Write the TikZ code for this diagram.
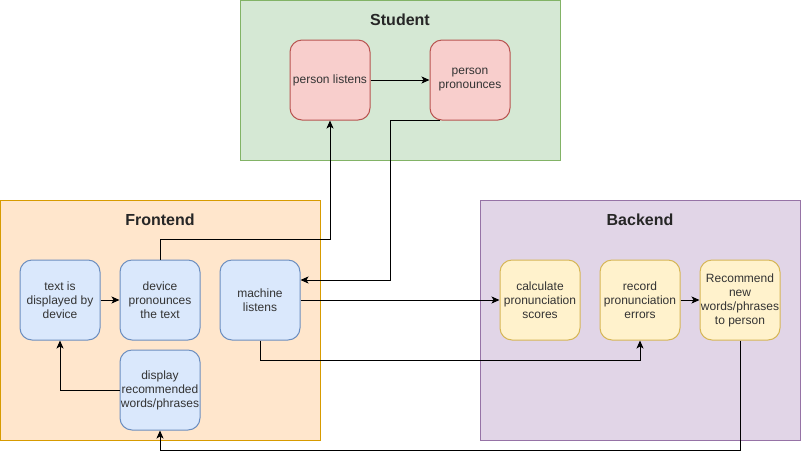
\documentclass[tikz,border=0pt]{standalone}
\usepackage{fontspec}
\setmainfont{Liberation Sans}
\usetikzlibrary{arrows.meta}

\definecolor{greenfill}{HTML}{D5E8D4}\definecolor{greenline}{HTML}{82B366}
\definecolor{orangefill}{HTML}{FFE6CC}\definecolor{orangeline}{HTML}{D79B00}
\definecolor{purplefill}{HTML}{E1D5E7}\definecolor{purpleline}{HTML}{9673A6}
\definecolor{redfill}{HTML}{F8CECC}\definecolor{redline}{HTML}{B85450}
\definecolor{bluefill}{HTML}{DAE8FC}\definecolor{blueline}{HTML}{6C8EBF}
\definecolor{yellowfill}{HTML}{FFF2CC}\definecolor{yellowline}{HTML}{D6B656}

\tikzset{
    panel/.style={line width=1pt, inner sep=0pt},
    paneltitle/.style={font=\fontsize{16}{19}\selectfont\bfseries, text=black!85},
    stepbox/.style={rounded corners=12pt, line width=1pt, minimum width=80pt, minimum height=80pt,
        inner sep=0pt, align=center, font=\fontsize{12}{14}\selectfont, text=black!80},
    studentbox/.style={stepbox, fill=redfill, draw=redline},
    frontbox/.style={stepbox, fill=bluefill, draw=blueline},
    backbox/.style={stepbox, fill=yellowfill, draw=yellowline},
    link/.style={line width=1pt, -{Stealth[length=8pt,width=7pt,inset=2pt]}},
}

\begin{document}
\begin{tikzpicture}[x=1pt,y=-1pt]
    \useasboundingbox (0,0) rectangle (801,459);

    % panels
    \node[panel, fill=greenfill, draw=greenline, minimum width=320pt, minimum height=160pt] (student) at (400,80) {};
    \node[panel, fill=orangefill, draw=orangeline, minimum width=320pt, minimum height=240pt] (frontend) at (160,320) {};
    \node[panel, fill=purplefill, draw=purpleline, minimum width=320pt, minimum height=240pt] (backend) at (640,320) {};
    \node[paneltitle] (studenttitle) at (400,20) {Student};
    \node[paneltitle] (frontendtitle) at (160,220) {Frontend};
    \node[paneltitle] (backendtitle) at (640,220) {Backend};

    % student
    \node[studentbox] (listen) at (330,80) {person listens};
    \node[studentbox] (pronounce) at (470,80) {person\\pronounces};

    % frontend
    \node[frontbox] (text) at (60,300) {text is\\displayed by\\device};
    \node[frontbox] (device) at (160,300) {device\\pronounces\\the text};
    \node[frontbox] (machine) at (260,300) {machine\\listens};
    \node[frontbox] (display) at (160,390) {display\\recommended\\words/phrases};

    % backend
    \node[backbox] (calc) at (540,300) {calculate\\pronunciation\\scores};
    \node[backbox] (record) at (640,300) {record\\pronunciation\\errors};
    \node[backbox] (recommend) at (740,300) {Recommend\\new\\words/phrases\\to person};

    % connectors
    \draw[link] (listen) -- (pronounce);
    \draw[link] (device.north) -- ++(0,-20) -| (listen.south);
    \draw[link] ([xshift=10pt]pronounce.south west) -| (390,280) -- ([yshift=20pt]machine.east);
    \draw[link] (machine) -- (calc);
    \draw[link] (machine.south) -- ++(0,20) -| (record.south);
    \draw[link] (record) -- (recommend);
    \draw[link] (recommend.south) -- ++(0,110) -| (display.south);
    \draw[link] (display.west) -| (text.south);
    \draw[link] (text) -- (device);
\end{tikzpicture}
\end{document}
